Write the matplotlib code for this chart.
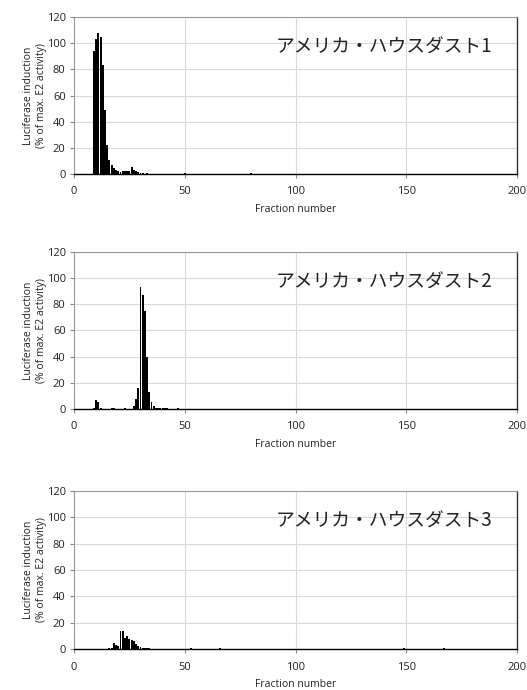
import matplotlib
matplotlib.use("Agg")
import matplotlib.pyplot as plt

plt.rcParams['font.family'] = ['Open Sans', 'Noto Sans CJK JP', 'DejaVu Sans']

# sample 1
frac1 = [9, 10, 11, 12, 13, 14, 15, 16, 17, 18, 19, 20, 21, 22, 23, 24, 25, 26, 27, 28, 29, 30, 31, 33, 50, 80]
val1 = [94, 103, 108, 105, 83, 49, 22, 11, 7, 4.3, 3, 2, 1.5, 2, 2, 2, 2.5, 5, 3, 2, 1.5, 1, 0.5, 0.5, 0.4, 0.8]

# sample 2
frac2 = [9, 10, 11, 12, 17, 18, 23, 27, 28, 29, 30, 31, 32, 33, 34, 35, 36, 37, 38, 39, 40, 41, 42, 47]
val2 = [1, 7, 5, 1, 0.5, 0.5, 0.5, 2.3, 7.4, 16, 93, 87, 75, 40, 13, 5.3, 2, 1, 0.5, 0.5, 0.5, 0.5, 0.5, 0.5]

# sample 3
frac3 = [16, 17, 18, 19, 20, 21, 22, 23, 24, 25, 26, 27, 28, 29, 30, 31, 32, 33, 34, 53, 66, 149, 167]
val3 = [0.5, 1, 4.3, 3, 2.5, 13.5, 13.5, 8.5, 10, 7.7, 6.8, 6, 4, 2.5, 1.5, 1, 0.8, 0.8, 0.5, 0.8, 0.5, 0.5, 0.8]

titles = ['アメリカ・ハウスダスト1', 'アメリカ・ハウスダスト2', 'アメリカ・ハウスダスト3']
yticks = [0, 20, 40, 60, 80, 100, 120]
xticks = [0, 50, 100, 150, 200]

fig = plt.figure(figsize=(5.27, 6.9), dpi=100)
W, H = 527.0, 690.0
tops = [17, 252, 491]
bottoms = [174, 409, 649]
data = [(frac1, val1), (frac2, val2), (frac3, val3)]

for i in range(3):
    ax = fig.add_axes([74 / W, 1 - bottoms[i] / H, (517 - 74) / W, (bottoms[i] - tops[i]) / H])
    f, v = data[i]
    ax.bar(f, v, width=0.85, color='black', edgecolor='none', zorder=3)
    ax.set_xlim(0, 200)
    ax.set_ylim(0, 120)
    ax.set_xticks(xticks)
    ax.set_yticks(yticks)
    ax.tick_params(labelsize=8, length=3, color='#888888', labelcolor='#222222')
    ax.tick_params(axis='x', pad=6)
    ax.tick_params(axis='y', pad=3)
    ax.grid(True, color='#d9d9d9', linewidth=0.8, zorder=0)
    for s in ['left', 'top']:
        ax.spines[s].set_color('#999999')
        ax.spines[s].set_linewidth(0.8)
    ax.spines['right'].set_color('#333333')
    ax.spines['right'].set_linewidth(1)
    ax.spines['bottom'].set_color('black')
    ax.spines['bottom'].set_linewidth(1)
    ax.set_xlabel('Fraction number', fontsize=7.5, labelpad=5, color='#222222')
    ax.set_ylabel('Luciferase induction\n(% of max. E2 activity)', fontsize=7.5, labelpad=0,
                  linespacing=1.2, color='#222222')
    ax.text(0.944, 0.81, titles[i], transform=ax.transAxes, ha='right', va='center',
            fontsize=13.5, color='#222222', family=['Noto Sans CJK JP', 'DejaVu Sans'])

fig.savefig('out.png', dpi=100)
